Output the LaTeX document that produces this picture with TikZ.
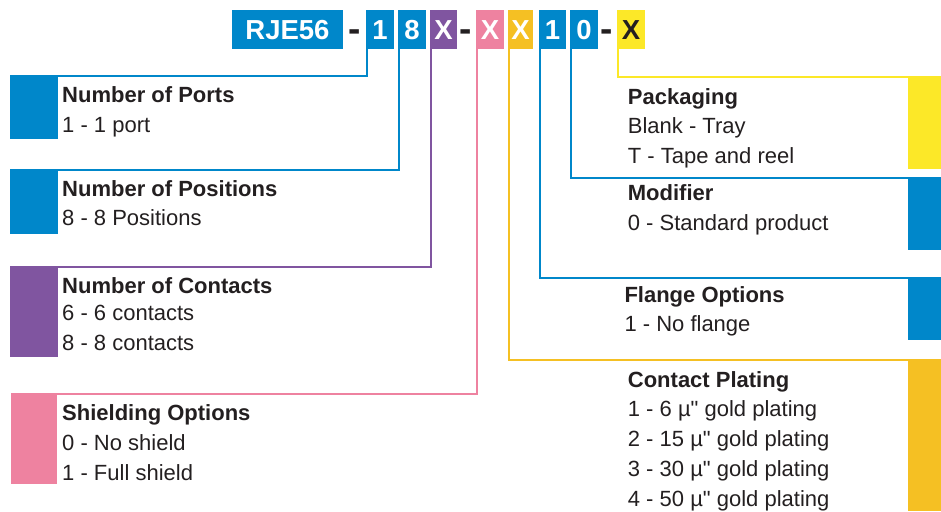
\documentclass[tikz,border=0pt]{standalone}
\usepackage{fontspec}
\setmainfont{Liberation Sans}
\newfontfamily\plainlib{Liberation Sans}
\newcommand{\dq}{{\plainlib"}}
\definecolor{cblue}{RGB}{0,135,202}
\definecolor{cpurple}{RGB}{128,85,160}
\definecolor{cpink}{RGB}{238,130,160}
\definecolor{corange}{RGB}{245,192,35}
\definecolor{cyellow}{RGB}{252,232,40}
\definecolor{ctext}{RGB}{35,31,32}
\begin{document}
\begin{tikzpicture}[x=1pt,y=-1pt,
 hbox/.style={inner sep=0pt, minimum height=39pt, text=white, text height=19.3pt, text depth=0pt,
   font=\fontsize{27.5}{27.5}\selectfont\bfseries, anchor=center},
 hdash/.style={inner sep=0pt, anchor=base, text=ctext, font=\fontsize{37}{37}\selectfont\bfseries},
 sq/.style={inner sep=0pt, draw=none, anchor=north west},
 ttl/.style={anchor=base west, inner sep=0pt, text=ctext, font=\fontsize{22}{22}\selectfont\bfseries},
 itm/.style={anchor=base west, inner sep=0pt, text=ctext, font=\fontsize{22}{22}\selectfont},
 conn/.style={line width=2pt}]
\useasboundingbox (0,0) rectangle (941,511);

% header
\node[hbox, fill=cblue, minimum width=111pt] (rje) at (287.5,29.5) {RJE56};
\node[hdash] (m1) at (354.5,41.5) {-};
\node[hbox, fill=cblue, minimum width=28pt] (d1) at (380,29.5) {1};
\node[hbox, fill=cblue, minimum width=28pt] (d8) at (412,29.5) {8};
\node[hbox, fill=cpurple, minimum width=27pt] (xp) at (443.5,29.5) {X};
\node[hdash] (m2) at (466,41.5) {-};
\node[hbox, fill=cpink, minimum width=28pt] (xk) at (490,29.5) {X};
\node[hbox, fill=corange, minimum width=25pt] (xo) at (520.5,29.5) {X};
\node[hbox, fill=cblue, minimum width=27pt] (f1) at (552.5,29.5) {1};
\node[hbox, fill=cblue, minimum width=28pt] (f0) at (584,29.5) {0};
\node[hdash] (m3) at (606.5,41.5) {-};
\node[hbox, fill=cyellow, minimum width=28pt, text=ctext] (xy) at (631,29.5) {X};

% colour squares
\node[sq, fill=cblue, minimum width=48pt, minimum height=63pt] (sqports) at (10,76) {};
\node[sq, fill=cblue, minimum width=48pt, minimum height=64pt] (sqpos) at (10,170) {};
\node[sq, fill=cpurple, minimum width=48pt, minimum height=90pt] (sqcont) at (10,267) {};
\node[sq, fill=cpink, minimum width=46pt, minimum height=90pt] (sqshield) at (11,394) {};
\node[sq, fill=cyellow, minimum width=33pt, minimum height=92pt] (sqpack) at (908,77) {};
\node[sq, fill=cblue, minimum width=33pt, minimum height=72pt] (sqmod) at (908,178) {};
\node[sq, fill=cblue, minimum width=33pt, minimum height=62pt] (sqfl) at (908,278) {};
\node[sq, fill=corange, minimum width=33pt, minimum height=151pt] (sqplat) at (908,360) {};

% connectors
\draw[conn, cblue] ([xshift=1pt]d1.south west) |- (sqports.north west);
\draw[conn, cblue] ([xshift=1pt]d8.south west) |- (sqpos.north west);
\draw[conn, cpurple] ([xshift=1pt]xp.south west) |- (sqcont.north west);
\draw[conn, cpink] ([xshift=1pt]xk.south west) |- (sqshield.north west);
\draw[conn, corange] ([xshift=1pt]xo.south west) |- (sqplat.north east);
\draw[conn, cblue] ([xshift=1pt]f1.south west) |- (sqfl.north east);
\draw[conn, cblue] ([xshift=1pt]f0.south west) |- (sqmod.north east);
\draw[conn, cyellow] ([xshift=1pt]xy.south west) |- (sqpack.north east);

% left texts
\node[ttl] (t1) at (62,102.3) {Number of Ports};
\node[itm] (t1a) at (62,132.7) {1 - 1 port};
\node[ttl] (t2) at (62,196.7) {Number of Positions};
\node[itm] (t2a) at (62,225.7) {8 - 8 Positions};
\node[ttl] (t3) at (62,293.3) {Number of Contacts};
\node[itm] (t3a) at (62,320.7) {6 - 6 contacts};
\node[itm] (t3b) at (62,350) {8 - 8 contacts};
\node[ttl] (t4) at (62,420.7) {Shielding Options};
\node[itm] (t4a) at (62,450) {0 - No shield};
\node[itm] (t4b) at (62,480) {1 - Full shield};

% right texts
\node[ttl] (r1) at (627.7,104.3) {Packaging};
\node[itm] (r1a) at (627.7,133.3) {Blank - Tray};
\node[itm] (r1b) at (627.7,163.3) {T - Tape and reel};
\node[ttl] (r2) at (627.7,200.7) {Modifier};
\node[itm] (r2a) at (627.7,230) {0 - Standard product};
\node[ttl] (r3) at (624.3,302.7) {Flange Options};
\node[itm] (r3a) at (624.3,331.7) {1 - No flange};
\node[ttl] (r4) at (627.7,387.7) {Contact Plating};
\node[itm] (r4a) at (627.7,416.7) {1 - 6 µ\dq{} gold plating};
\node[itm] (r4b) at (627.7,446.7) {2 - 15 µ\dq{} gold plating};
\node[itm] (r4c) at (627.7,476.7) {3 - 30 µ\dq{} gold plating};
\node[itm] (r4d) at (627.7,506.7) {4 - 50 µ\dq{} gold plating};
\end{tikzpicture}
\end{document}
